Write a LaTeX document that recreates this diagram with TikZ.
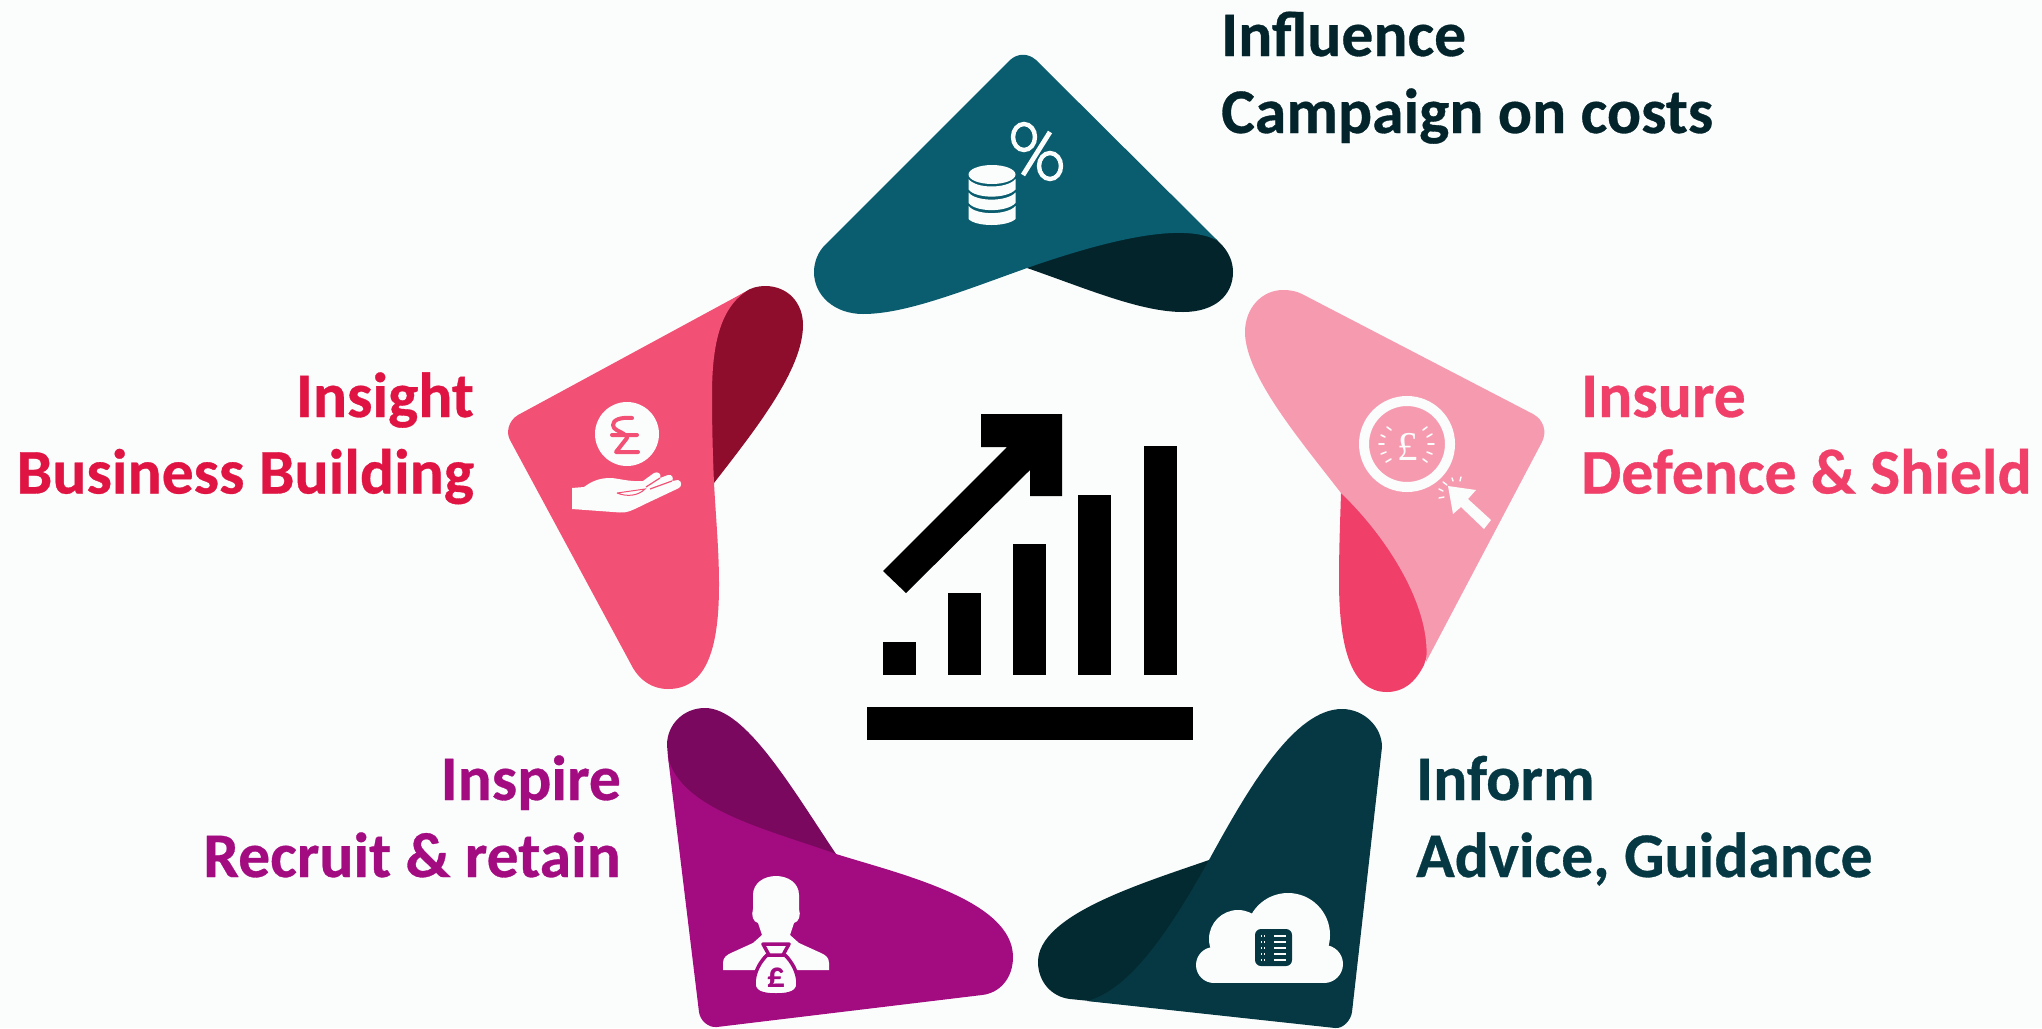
\documentclass[tikz,border=0pt]{standalone}
\usepackage{fontspec}
\setmainfont{Carlito}[BoldFeatures={FakeBold=0.5}]
\newfontfamily\plainbold{Carlito Bold}
\newfontfamily\serifpound{Liberation Serif}
\definecolor{bgc}{HTML}{FBFDFD}
\definecolor{tealA}{HTML}{095D6E}
\definecolor{tealD}{HTML}{03242B}
\definecolor{roseA}{HTML}{F25074}
\definecolor{roseD}{HTML}{8F0D2C}
\definecolor{pinkA}{HTML}{F69BAF}
\definecolor{pinkD}{HTML}{F03F68}
\definecolor{plumA}{HTML}{A30C80}
\definecolor{plumD}{HTML}{7B085F}
\definecolor{navyA}{HTML}{053842}
\definecolor{navyD}{HTML}{042A31}
\definecolor{roseT}{HTML}{DF1443}
\tikzset{
  lab/.style={inner sep=0pt,font=\fontsize{63.6}{72}\selectfont\bfseries},
  labL/.style={lab,anchor=base west},
  labR/.style={lab,anchor=base east},
  ray/.style={draw=bgc,line width=1.6pt,line cap=round},
  bar/.style={fill=black,draw=none}
}
\begin{document}
\begin{tikzpicture}[x=1pt,y=-1pt]
\useasboundingbox (0,0) rectangle (2042,1028);
\fill[bgc] (0,0) rectangle (2042,1028);

% ---- Influence (top)
\fill[tealD] (1027,268) .. controls (1085,288) and (1140,312) .. (1183,312)
  .. controls (1215,312) and (1233,295) .. (1233,272)
  .. controls (1233,262) and (1229,252) .. (1220,243) -- (1200,225) -- (1120,200) -- cycle;
\fill[tealA] (1010,60) .. controls (1018,53) and (1028,53) .. (1036,60) -- (1218,241)
  .. controls (1190,225) and (1130,232) .. (1027,268)
  .. controls (960,292) and (905,314) .. (863,314)
  .. controls (835,314) and (814,296) .. (814,272)
  .. controls (814,262) and (818,252) .. (825,245) -- cycle;
% coins
\fill[bgc] (992,174.5) ellipse [x radius=23.5pt,y radius=9.5pt];
\foreach \s/\c/\e/\f in {179/187/189.5/197, 192.5/200/203/210.5, 206/213.5/219/225}{
  \fill[bgc] (968.5,\s) .. controls (976,{\c+2}) and (1007,{\c+2}) .. (1015.5,\s)
     -- (1015.5,\e) .. controls (1007,{\f+2}) and (976,{\f+2}) .. (968.5,\e) -- cycle;
}
% percent
\draw[bgc,line width=4.4pt] (1024,137) ellipse [x radius=11pt,y radius=13pt];
\draw[bgc,line width=4.4pt] (1050,166) ellipse [x radius=11pt,y radius=13pt];
\draw[bgc,line width=4.8pt] (1050,132) -- (1023,175);

% ---- Insight (left)
\fill[roseD] (745,292) .. controls (750,288) and (758,286) .. (765,286)
  .. controls (788,286) and (803,303) .. (803,325)
  .. controls (803,370) and (755,430) .. (714,483) -- (700,420) -- (700,340) -- (722,306) -- cycle;
\fill[roseA] (745,292) .. controls (720,310) and (712,345) .. (712,395)
  .. controls (712,430) and (713,460) .. (714,483)
  .. controls (716,520) and (719,550) .. (719,585)
  .. controls (719,645) and (708,689) .. (668,689)
  .. controls (652,689) and (640,680) .. (633,668) -- (510,440)
  .. controls (506,433) and (508,421) .. (518,415) -- cycle;
\fill[bgc] (627,434) circle [radius=32pt];
\draw[roseA,line width=4pt,line cap=round,line join=round]
  (632,418) .. controls (620,417) and (613,420) .. (613,425)
  .. controls (613,430) and (620,431) .. (624,434)
  (612,435) -- (637,435)
  (627,438) -- (616,452) -- (638,452);
\fill[bgc] (572,488) -- (584,487) .. controls (592,481) and (600,478) .. (610,478)
  .. controls (618,478) and (628,482) .. (643,481)
  -- (654,473) .. controls (658,471) and (662,474) .. (660,478)
  -- (668,475) .. controls (672,474) and (674,478) .. (672,481)
  -- (678,480) .. controls (682,481) and (682,486) .. (679,488)
  -- (643,505) .. controls (633,510) and (627,513) .. (620,512.5)
  -- (572,509) -- cycle;
\draw[roseA,line width=1pt]
  (617,493) -- (645,489) .. controls (638,496) and (627,497) .. (617,493);
\draw[roseA,line width=1.2pt] (646,487) -- (660,478) (650,489) -- (672,481);

% ---- Insure (right)
\fill[pinkD] (1341,493) .. controls (1340,525) and (1339,550) .. (1339,580)
  .. controls (1339,650) and (1352,692) .. (1387,692)
  .. controls (1403,692) and (1415,683) .. (1424,665) -- (1432,640) -- (1430,600) -- (1400,540) -- cycle;
\fill[pinkA] (1283,290) .. controls (1290,290) and (1296,291) .. (1302,294) -- (1533,414)
  .. controls (1544,420) and (1547,432) .. (1542,442) -- (1426,662)
  .. controls (1432,610) and (1390,540) .. (1341,493)
  .. controls (1300,440) and (1245,375) .. (1245,332)
  .. controls (1245,308) and (1262,290) .. (1283,290) -- cycle;
\draw[bgc,line width=10pt] (1407,444) circle [radius=43pt];
\node[inner sep=0pt,text=bgc,font=\fontsize{41}{41}\selectfont\serifpound,anchor=base] (ipound) at (1408,460) {£};
\draw[ray] (1387,427) -- (1391,430) (1381,435) -- (1385,437) (1379,444) -- (1384,444)
  (1381,454) -- (1386,452) (1386,462) -- (1391,459)
  (1423,430) -- (1427,427) (1427,437) -- (1432,434) (1428,444) -- (1434,444)
  (1427,452) -- (1432,454) (1423,459) -- (1427,462);
\draw[ray,line width=1.4pt] (1443,482) -- (1447,485) (1452,478) -- (1453,481)
  (1461,477) -- (1460,481) (1439,489) -- (1443,491) (1439,498) -- (1444,497);
\fill[bgc] (1448,486) -- (1476,490) -- (1468,499) -- (1491,520) -- (1484,529)
  -- (1461,507) -- (1453,514) -- cycle;

% ---- Inspire (lower left)
\fill[plumD] (668,757) -- (667,745) .. controls (667,725) and (683,708) .. (705,708)
  .. controls (745,708) and (790,785) .. (836,854) -- (760,850) -- (700,820) -- (672,780) -- cycle;
\fill[plumA] (668,757) .. controls (680,810) and (770,830) .. (836,854)
  .. controls (900,874) and (1013,900) .. (1013,957)
  .. controls (1013,978) and (1000,993) .. (982,995) -- (717,1027)
  .. controls (708,1028) and (700,1020) .. (699,1012) -- cycle;
% person
\fill[bgc] (723,970) -- (723,963) .. controls (723,957) and (727,955) .. (731,953)
  -- (753,943) -- (762,935) -- (758,923)
  .. controls (753,922) and (751,915) .. (753,909)
  .. controls (753,905) and (753,900) .. (753,895)
  .. controls (753,883) and (764,876) .. (776,876)
  .. controls (788,876) and (799,883) .. (799,895)
  .. controls (799,900) and (799,905) .. (799,909)
  .. controls (801,915) and (799,922) .. (794,923)
  -- (790,935) -- (799,943) -- (821,953)
  .. controls (825,955) and (829,957) .. (829,963) -- (829,970) -- cycle;
% money bag
\draw[plumA,line width=3.5pt,fill=bgc] (767,955)
  .. controls (760,962) and (754,972) .. (754,984)
  .. controls (754,992) and (762,995) .. (776,995)
  .. controls (790,995) and (798,992) .. (798,984)
  .. controls (798,972) and (792,962) .. (785,955) -- cycle;
\draw[plumA,line width=3.5pt,fill=bgc,line join=round]
  (763,944) -- (789,944) -- (783,955) -- (769,955) -- cycle;
\node[inner sep=0pt,text=plumA,font=\fontsize{36}{36}\selectfont\plainbold,anchor=base] (bpound) at (776,987) {£};

% ---- Inform (lower right)
\fill[navyD] (1209,860) .. controls (1140,884) and (1038,915) .. (1038,962)
  .. controls (1038,982) and (1052,997) .. (1070,999) -- (1110,1003) -- (1170,960) -- (1215,880) -- cycle;
\fill[navyA] (1342,709) .. controls (1364,709) and (1382,727) .. (1382,747) -- (1352,1012)
  .. controls (1351,1020) and (1343,1029) .. (1335,1028) -- (1087,1001)
  .. controls (1130,990) and (1170,930) .. (1209,860)
  .. controls (1250,785) and (1295,709) .. (1342,709) -- cycle;
% cloud
\fill[bgc] (1214,965) circle [radius=18pt] (1238,939) circle [radius=29pt]
  (1288,935) circle [radius=42pt] (1324,964) circle [radius=19pt];
\fill[bgc] (1214,940) rectangle (1324,983);
\fill[navyA,rounded corners=6pt] (1255,929) rectangle (1292,966);
\foreach \y in {936,942,948,954,960}{
  \fill[bgc] (1274,{\y-0.7}) rectangle (1286,{\y+0.7});
  \fill[bgc] (1261,{\y-0.7}) rectangle (1262.4,{\y+0.7});
  \fill[bgc] (1263.8,{\y-0.7}) rectangle (1265.2,{\y+0.7});
}

% ---- centre chart
\fill[bar] (883,642) rectangle (916,675);
\fill[bar] (948,593) rectangle (981,675);
\fill[bar] (1013,544) rectangle (1046,675);
\fill[bar] (1078,495) rectangle (1111,675);
\fill[bar] (1144,446) rectangle (1177,675);
\fill[bar] (867,707) rectangle (1193,740);
\fill[bar] (981,414) -- (1062,414) -- (1062,496) -- (1030,496) -- (1030,470)
  -- (906,593) -- (883,571) -- (1007,447) -- (981,447) -- cycle;

% ---- labels
\node[labL,text=tealD] (t1a) at (1221,56) {Influence};
\node[labL,text=tealD] (t1b) at (1221,133) {Campaign on costs};
\node[labL,text=pinkD] (t2a) at (1581,417) {Insure};
\node[labL,text=pinkD] (t2b) at (1581,493.5) {Defence \& Shield};
\node[labL,text=navyA] (t3a) at (1416,800) {Inform};
\node[labL,text=navyA] (t3b) at (1416,877) {Advice, Guidance};
\node[labR,text=plumA] (t4a) at (621,800) {Inspire};
\node[labR,text=plumA] (t4b) at (621,877) {Recruit \& retain};
\node[labR,text=roseT] (t5a) at (474,417) {Insight};
\node[labR,text=roseT] (t5b) at (474,493.5) {Business Building};
\end{tikzpicture}
\end{document}
